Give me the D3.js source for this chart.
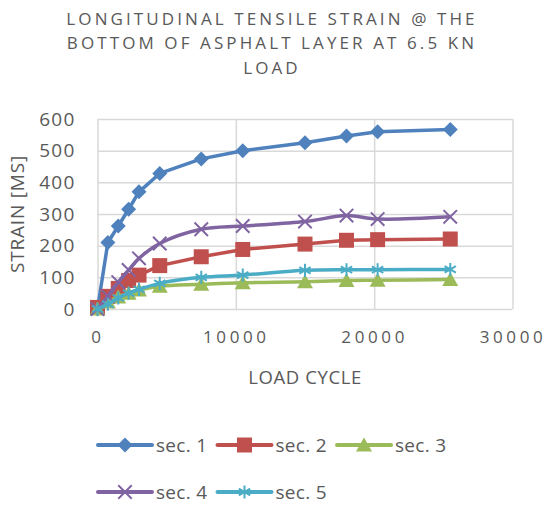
<!DOCTYPE html>
<meta charset="utf-8">
<style>
body{margin:0;background:#fff;}
svg text{font-family:"Open Sans",sans-serif;fill:#595959;}
</style>
<svg id="chart" width="551" height="506"></svg>
<script src="https://d3js.org/d3.v7.min.js"></script>
<script>
// load cycles (x) and strain per section
const cycles = [0, 750, 1500, 2250, 3000, 4500, 7500, 10500, 15000, 18000, 20250, 25500]
const sec1 = [0, 210, 262, 315, 370, 428, 474, 500, 525, 546, 560, 567]
const sec2 = [5, 40, 65, 90, 107, 137, 165, 188, 205, 217, 219, 221]
const sec3 = [0, 22, 38, 50, 60, 72, 78, 83, 86, 90, 91, 93]
const sec4 = [0, 40, 85, 123, 160, 207, 252, 262, 276, 295, 284, 291]
const sec5 = [0, 15, 35, 50, 62, 81, 100, 107, 122, 124, 124, 125]
const seriesNames = ['sec. 1', 'sec. 2', 'sec. 3', 'sec. 4', 'sec. 5']
const xTicks = [0, 10000, 20000, 30000]
const yTicks = [0, 100, 200, 300, 400, 500, 600]
const titleLines = ['LONGITUDINAL TENSILE STRAIN @ THE', 'BOTTOM OF ASPHALT LAYER AT 6.5 KN', 'LOAD']

const colors = ['#4F81BD', '#C0504D', '#9BBB59', '#8064A2', '#4BACC6']
const markers = ['diamond', 'square', 'triangle', 'times', 'asterisk']
const smooth = [false, false, true, true, true]
const allSeries = [sec1, sec2, sec3, sec4, sec5].map((vals, i) => ({
  name: seriesNames[i], color: colors[i], marker: markers[i], smooth: smooth[i],
  points: vals.map((v, j) => ({x: cycles[j], y: v}))
}))

const svg = d3.select('#chart')
const m = {left: 97.5, right: 512.5, top: 119, bottom: 309}
const x = d3.scaleLinear().domain([0, 30000]).range([m.left, m.right])
const y = d3.scaleLinear().domain([0, 600]).range([m.bottom, m.top])

// title
svg.append('g').selectAll('text').data(titleLines).enter().append('text')
  .attr('x', 272).attr('y', (d, i) => 24.5 + i * 24.5)
  .attr('text-anchor', 'middle')
  .style('font-size', '17px').style('letter-spacing', '3.1px')
  .text(d => d)

// grid + axes
const gy = svg.append('g').attr('transform', `translate(${m.left},0)`)
  .call(d3.axisLeft(y).tickValues(yTicks).tickSize(-(m.right - m.left)).tickPadding(22))
const gx = svg.append('g').attr('transform', `translate(0,${m.bottom})`)
  .call(d3.axisBottom(x).tickValues(xTicks).tickFormat(d3.format('d'))
    .tickSize(-(m.bottom - m.top)).tickPadding(19))
;[gx, gy].forEach(g => {
  g.select('.domain').remove()
  g.selectAll('line').attr('stroke', '#d9d9d9').attr('stroke-width', 1.5)
  g.selectAll('text').style('font-family', '"Open Sans",sans-serif').attr('fill', '#595959')
})
gy.selectAll('text').style('font-size', '19px').style('letter-spacing', '1.2px')
gx.selectAll('text').style('font-size', '17px').style('letter-spacing', '3.6px').attr('dy', '0.9em')

svg.append('text').attr('x', (m.left + m.right) / 2).attr('y', 383.5)
  .attr('text-anchor', 'middle').style('font-size', '18.5px').style('letter-spacing', '0.6px')
  .text('LOAD CYCLE')
svg.append('text').attr('transform', `translate(24,${(m.top + m.bottom) / 2}) rotate(-90)`)
  .attr('text-anchor', 'middle').style('font-size', '19px').style('letter-spacing', '0.8px')
  .text('STRAIN [MS]')

// marker drawing
function drawMarker(sel, kind, color) {
  if (kind === 'diamond') sel.append('path').attr('d', 'M0,-7.5L7.5,0L0,7.5L-7.5,0Z').attr('fill', color)
  else if (kind === 'square') sel.append('path').attr('d', 'M-7.5,-7.5H7.5V7.5H-7.5Z').attr('fill', color)
  else if (kind === 'triangle') sel.append('path').attr('d', 'M0,-7.5L8,6.5H-8Z').attr('fill', color)
  else sel.append('path')
    .attr('d', d3.symbol().type(kind === 'times' ? d3.symbolTimes : d3.symbolAsterisk).size(120)())
    .attr('fill', 'none').attr('stroke', color).attr('stroke-width', 2)
}

const plot = svg.append('g')
allSeries.forEach(s => {
  const line = d3.line().x(d => x(d.x)).y(d => y(d.y))
    .curve(s.smooth ? d3.curveCatmullRom.alpha(0.5) : d3.curveLinear)
  const g = plot.append('g')
  g.append('path').datum(s.points).attr('d', line)
    .attr('fill', 'none').attr('stroke', s.color).attr('stroke-width', 3.5).attr('stroke-linejoin', 'round')
  g.selectAll('g.mk').data(s.points).enter().append('g').attr('class', 'mk')
    .attr('transform', d => `translate(${x(d.x)},${y(d.y)})`)
    .each(function () { drawMarker(d3.select(this), s.marker, s.color) })
})

// legend
const legend = svg.append('g')
const legendItems = legend.selectAll('g').data(allSeries).enter().append('g')
  .attr('transform', (d, i) => `translate(${98 + (i % 3) * 119.5},${i < 3 ? 445 : 492})`)
legendItems.append('line').attr('x1', 0).attr('x2', 54)
  .attr('stroke', d => d.color).attr('stroke-width', 4).attr('stroke-linecap', 'round')
legendItems.each(function (d) {
  const g = d3.select(this).append('g').attr('transform', 'translate(27,0)')
  drawMarker(g, d.marker, d.color)
})
legendItems.append('text').attr('x', 58).attr('y', 7)
  .style('font-size', '19px').style('letter-spacing', '0.3px')
  .text(d => d.name)
</script>
